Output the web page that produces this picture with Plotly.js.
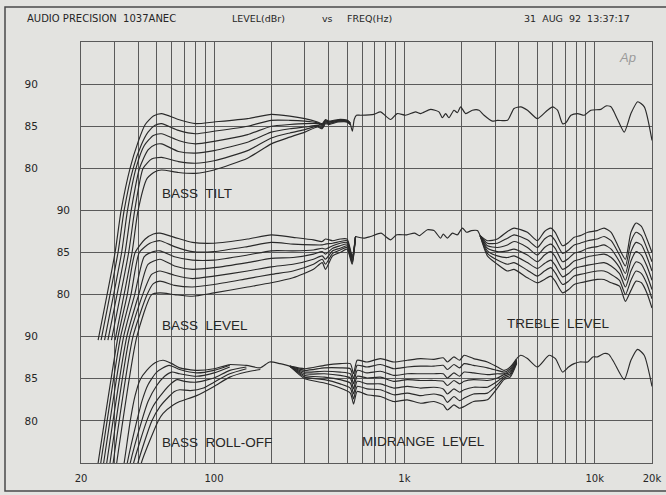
<!DOCTYPE html>
<html><head><meta charset="utf-8">
<script src="https://cdn.plot.ly/plotly-3.0.1.min.js"></script>
<style>html,body{margin:0;padding:0;background:#e3e3e0;} #chart{width:666px;height:495px;}</style>
</head><body><div id="chart"></div><script>
// ---------- axis ticks ----------
const xTickVals = [20,30,40,50,60,70,80,90,100,200,300,400,500,600,700,800,900,1000,2000,3000,4000,5000,6000,7000,8000,9000,10000,20000];
const xTickText = ['20','','','','','','','','100','','','','','','','','','1k','','','','','','','','','10k','20k'];
const yGridVals = [95,90,85,80,75,70,65,60,55,50,45];
const yGridText = ['','90','85','80','','','','90','85','80',''];
const yMidVals = [75,70,65];
const yMidText = ['90','85','80'];

// ---------- TOP PANEL : BASS TILT (real dB) ----------
const tiltRiseF = [[24.6,30.2,32.5,36.2,40,43.5,48],[25.5,31.3,33.7,37.6,41.5,45,49],[26.6,32.7,35.1,38.9,43,48],[27.7,34.1,36.7,40.6,45,49],[28.9,35.6,38.3,42.4,47],[30.2,37.1,39.9,44.5,49]];
const tiltRiseDb = [[59.6,70,75,80,83.2,85.2,86.2],[59.6,70,75,80,82.8,84.3,85.1],[59.6,70,75,80,82.7,83.9],[59.6,70,75,80,82.2,82.8],[59.6,70,75,80,81.1],[59.6,70,75,78.8,79.6]];
const tiltF = [53,65,80,100,150,200,250,300,350,370,385,400,450,500,520];
const tiltDb = [
 [86.5,85.8,85.3,85.5,85.9,86.4,86.2,85.9,85.5,85.3,85.8,85.6,85.8,85.7,85.4],
 [85.3,84.5,84.1,84.4,85.0,85.7,85.7,85.6,85.4,85.2,85.7,85.5,85.7,85.7,85.4],
 [84.1,83.3,82.9,83.2,84.0,85.0,85.2,85.3,85.3,85.1,85.6,85.5,85.7,85.6,85.3],
 [82.9,82.0,81.8,82.1,83.1,84.3,84.7,84.9,85.1,85.0,85.5,85.4,85.6,85.6,85.3],
 [81.3,80.8,80.6,80.9,82.1,83.6,84.2,84.6,85.0,84.8,85.4,85.3,85.6,85.5,85.2],
 [79.8,79.5,79.4,79.8,81.2,82.9,83.7,84.3,84.9,84.7,85.3,85.2,85.5,85.5,85.2]];
const tiltHighF = [520,533,545,560,588,691,749,846,917,1015,1145,1217,1374,1519,1583,1648,1715,1822,1899,1976,2099,2276,2466,2622,2901,3082,3480,3770,4088,4434,5003,5650,6005,6378,6776,7053,7500,8130,8808,9550,10780,11450,12170,13190,14300,15500,16820,18220,20000];
const tiltHighDb = [85.3,84.4,85.8,86.3,86.3,86.4,86.7,85.8,86.5,86.3,86.7,86.5,87.0,86.7,86.0,86.5,86.0,86.9,86.6,87.3,86.5,86.9,86.9,86.3,85.6,85.7,85.7,87.1,87.3,86.9,85.9,86.9,87.3,86.9,85.3,85.4,86.3,86.5,86.3,86.9,87.0,87.4,87.3,85.8,84.3,86.5,87.9,87.3,83.3];

// ---------- MIDDLE PANEL : BASS LEVEL / TREBLE LEVEL (real dB) ----------
const levelRiseF = [[24.6,31.3,35.0,38.5,43.5,48],[25.4,32.3,36.6,40.5,46],[26.3,33.5,38.3,43,48],[27.3,34.8,40.2,45],[28.4,36.0,42.2,47],[29.5,37.5,44.5,48],[30.8,39.3,47]];
const levelRiseDb = [[60,75,80,85,86.6,87.2],[60,75,80,85,86.1],[60,75,80,84.5,85.1],[60,75,80,83.6],[60,75,80,82.4],[60,75,80,81.3],[60,75,80]];
const levelF = [52,62,77,100,150,200,260,333,370,385,420,460,500,532,554];
const levelDb = [
 [87.3,86.8,86.2,86.1,86.6,87.1,86.8,86.5,86.3,86.6,86.4,86.6,86.6,84.6,86.9],
 [86.4,85.7,85.1,85.1,85.7,86.2,86.0,85.9,85.9,86.0,86.1,86.3,86.4,84.4,86.9],
 [85.2,84.5,84.1,84.1,84.7,85.2,85.2,85.3,85.5,85.4,85.8,86.1,86.2,84.3,86.9],
 [84.2,83.4,83.0,83.2,83.8,84.3,84.4,84.8,85.1,84.8,85.5,85.8,86.0,84.1,86.9],
 [82.8,82.3,81.9,82.2,82.8,83.3,83.6,84.2,84.6,84.2,85.2,85.5,85.8,83.9,86.9],
 [81.6,81.1,80.9,81.2,81.9,82.4,82.8,83.6,84.2,83.6,84.9,85.3,85.6,83.8,86.9],
 [80.2,80.0,79.8,80.2,80.9,81.4,82.0,83.0,83.8,83.0,84.6,85.0,85.4,83.6,86.9]];
const midCommonF = [554,612,664,755,796,846,912,1030,1130,1200,1320,1430,1550,1600,1682,1787,1900,2017,2122,2250,2419,2500];
const midCommonDb = [86.9,86.7,86.9,87.3,86.9,86.5,87.1,87.1,87.3,87.0,87.7,87.6,86.7,87.2,86.7,87.3,87.1,87.9,87.4,87.6,87.6,87.0];
const trebleF = [2500,2730,3080,3480,3770,4430,5000,5450,5880,6200,6780,7290,7800,8390,9200,10300,11200,12200,13500,14500,15500,16500,17600,18800,20000];
const trebleDb = [
 [87.0,86.4,86.6,87.5,87.9,87.4,86.4,87.5,87.9,87.4,85.8,86.2,86.8,87.0,87.4,87.6,87.9,87.4,85.4,84.2,87.4,88.5,88.1,86.6,85.0],
 [87.0,86.1,86.1,86.7,87.1,86.5,85.6,86.6,87.0,86.4,84.9,85.3,85.9,86.1,86.4,86.6,86.9,86.4,84.7,83.4,86.3,87.4,87.0,85.5,83.9],
 [87.0,85.8,85.6,85.9,86.3,85.6,84.7,85.6,86.0,85.5,83.9,84.3,84.9,85.1,85.5,85.7,85.9,85.4,83.9,82.5,85.1,86.2,85.9,84.5,82.8],
 [87.0,85.5,85.1,85.2,85.4,84.7,83.9,84.7,85.1,84.5,83.0,83.4,84.0,84.2,84.5,84.7,84.8,84.4,83.2,81.7,84.0,85.1,84.7,83.4,81.7],
 [87.0,85.2,84.6,84.4,84.6,83.8,83.1,83.7,84.1,83.5,82.1,82.5,83.1,83.3,83.5,83.7,83.8,83.4,82.5,80.9,82.8,83.9,83.6,82.3,80.6],
 [87.0,84.9,84.1,83.6,83.8,82.9,82.2,82.8,83.2,82.6,81.2,81.6,82.2,82.4,82.6,82.8,82.8,82.4,81.7,80.0,81.7,82.8,82.5,81.3,79.5],
 [87.0,84.6,83.6,82.8,83.0,82.0,81.4,81.8,82.2,81.6,80.2,80.6,81.2,81.4,81.6,81.8,81.8,81.4,81.0,79.2,80.5,81.6,81.4,80.2,78.4]];

// ---------- BOTTOM PANEL : BASS ROLL-OFF / MIDRANGE LEVEL (real dB) ----------
const rollF = [
 [32,33.7,36.3,38.4,40.9,44.3,49,54,60,66,81,100,121],
 [33.2,35,39.3,42,45,50,58,66,81,100,121],
 [34.4,36.3,41.7,45,50,55,60,66,81,100,121],
 [35.8,37.8,44.3,48,54,60,64,70,81,100,121,148],
 [37.6,39.8,47.1,52,58,62,66,75,88,100,121,148],
 [39.3,41.5,50.9,54,61,66,81,100,121,148,175]];
const rollDb = [
 [72,75,80,82.9,84.9,86.0,86.9,87.2,86.8,86.3,86.0,86.2,86.7],
 [72,75,80,82.5,84.3,85.8,86.6,86.1,85.7,86.0,86.6],
 [72,75,80,82.3,84.2,85.3,85.8,85.6,85.3,85.7,86.4],
 [72,75,80,81.8,83.4,84.5,84.9,84.7,84.6,85.1,86.0,86.4],
 [72,75,80,81.7,82.9,83.5,83.7,83.6,83.9,84.6,85.6,86.2],
 [72,75,80,80.9,81.9,82.3,83.0,84.1,85.2,85.8,86.1]];
const botCommonF = [121,148,175,196,222,250];
const botCommonDb = [86.7,86.6,86.3,87.0,86.8,86.5];
const midrangeF = [250,300,380,460,520,541,565,637,749,880,1035,1217,1430,1600,1682,1822,1950,2060,2310,2730,3080,3340,3600,3890];
const midrangeDb = [
 [86.5,86.2,86.6,86.8,86.8,85.6,87.2,87.0,87.4,87.0,87.2,87.4,87.3,87.5,87.0,87.6,87.2,87.8,87.4,87.0,86.4,86.0,86.4,87.4],
 [86.5,86.0,86.3,86.3,86.2,85.0,86.6,86.4,86.7,86.2,86.4,86.5,86.5,86.6,86.1,86.7,86.3,86.8,86.6,86.3,86.0,85.8,86.2,87.3],
 [86.5,85.8,85.9,85.8,85.6,84.4,86.0,85.7,85.9,85.4,85.6,85.6,85.6,85.6,85.1,85.7,85.3,85.8,85.7,85.5,85.6,85.6,86.0,87.2],
 [86.5,85.6,85.6,85.4,85.1,83.8,85.3,85.1,85.2,84.7,84.9,84.8,84.8,84.7,84.2,84.8,84.4,84.7,84.9,84.8,85.1,85.5,85.8,87.1],
 [86.5,85.4,85.2,84.9,84.5,83.2,84.7,84.4,84.4,83.9,84.1,83.9,84.0,83.8,83.2,83.8,83.4,83.7,84.0,84.0,84.7,85.3,85.6,87.0],
 [86.5,85.2,84.9,84.4,83.9,82.6,84.1,83.8,83.7,83.1,83.3,83.0,83.2,82.9,82.2,82.9,82.4,82.7,83.2,83.3,84.3,85.1,85.4,86.9],
 [86.5,85.0,84.5,83.9,83.3,82.0,83.5,83.1,82.9,82.3,82.5,82.1,82.3,81.9,81.3,81.9,81.5,81.7,82.3,82.5,83.9,84.9,85.2,86.8]];
const botHighF = [3890,4088,4434,5000,5760,6220,6780,7290,7800,8350,9180,9770,10350,11200,11850,12600,14300,15500,16800,18200,20000];
const botHighDb = [87.4,87.8,87.4,86.4,87.8,87.4,85.8,86.4,86.8,87.0,87.0,87.6,87.6,88.0,87.9,87.0,84.9,87.2,88.5,87.8,84.1];

// panel shifts onto the common stacked axis (dB below the top panel)
const TOP = 0, MID = -15, BOT = -30;
const LINE = '#2a2a2a', GRID = '#5a5a5a', BG = '#e3e3e0', TXT = '#262626';

const traces = [];
function add(f, db, off) {
  traces.push({type:'scatter', mode:'lines', x:f, y:db.map(v => v + off),
    line:{color:LINE, width:1.15, shape:'spline', smoothing:0.6}, hoverinfo:'skip', showlegend:false});
}
tiltDb.forEach((d,i) => add(tiltRiseF[i].concat(tiltF), tiltRiseDb[i].concat(d), TOP));
add(tiltHighF, tiltHighDb, TOP);
levelDb.forEach((d,i) => add(levelRiseF[i].concat(levelF), levelRiseDb[i].concat(d), MID));
add(midCommonF, midCommonDb, MID);
trebleDb.forEach(d => add(trebleF, d, MID));
rollDb.forEach((d,i) => add(rollF[i], d, BOT));
add(botCommonF, botCommonDb, BOT);
midrangeDb.forEach(d => add(midrangeF, d, BOT));
add(botHighF, botHighDb, BOT);
// empty trace so the second (label-only) y axis is drawn
traces.push({type:'scatter', mode:'markers', x:[null], y:[null], yaxis:'y2', hoverinfo:'skip', showlegend:false});

const PL = 81, PW = 571, PT = 42, PH = 421, PB = PT + PH;
const px = v => (v - PL) / PW;
const py = v => (PB - v) / PH;
function note(text, x, y, size, family, extra) {
  return Object.assign({text, x:px(x), y:py(y), xref:'paper', yref:'paper', xanchor:'left', yanchor:'middle',
    showarrow:false, font:{size, family, color:TXT}}, extra || {});
}
const HEAD = 'DejaVu Sans', LAB = 'Liberation Sans, Arial, sans-serif';
const annotations = [
  note('AUDIO PRECISION  1037ANEC', 25, 18, 10, HEAD),
  note('LEVEL(dBr)', 230, 18, 9.5, HEAD),
  note('vs', 320, 18, 9.5, HEAD),
  note('FREQ(Hz)', 345, 18, 9.5, HEAD),
  note('31  AUG  92  13:37:17', 522, 18, 9.5, HEAD),
  note('BASS  TILT', 160, 193, 13.5, LAB),
  note('BASS  LEVEL', 160, 325, 13.5, LAB),
  note('TREBLE  LEVEL', 505, 323, 13.5, LAB),
  note('BASS  ROLL-OFF', 160, 442, 13.5, LAB),
  note('MIDRANGE  LEVEL', 360, 441, 13.5, LAB),
  note('<i>Ap</i>', 617, 57, 13, LAB, {font:{size:13, family:LAB, color:'#9a9a9a'}})
];

const layout = {
  width:666, height:495,
  margin:{l:PL, r:666-PL-PW, t:PT, b:495-PB},
  paper_bgcolor:BG, plot_bgcolor:BG,
  showlegend:false, hovermode:false,
  xaxis:{type:'log', range:[Math.log10(20), Math.log10(20000)], tickmode:'array', tickvals:xTickVals, ticktext:xTickText,
    showgrid:true, gridcolor:GRID, gridwidth:1, showline:true, mirror:true, linecolor:GRID, linewidth:1,
    ticks:'', zeroline:false, ticklabelstandoff:6, tickfont:{family:HEAD, size:10, color:TXT}},
  yaxis:{range:[45,95], tickmode:'array', tickvals:yGridVals, ticktext:yGridText,
    showgrid:true, gridcolor:GRID, gridwidth:1, showline:true, mirror:true, linecolor:GRID, linewidth:1,
    ticks:'', zeroline:false, ticklabelstandoff:40, tickfont:{family:HEAD, size:10.5, color:TXT}},
  yaxis2:{range:[45,95], overlaying:'y', side:'left', anchor:'x', tickmode:'array', tickvals:yMidVals, ticktext:yMidText,
    showgrid:false, showline:false, zeroline:false, ticks:'', ticklabelstandoff:10, tickfont:{family:HEAD, size:10.5, color:TXT}},
  annotations,
  shapes:[{type:'rect', xref:'paper', yref:'paper', x0:px(5), x1:px(672), y0:py(491), y1:py(7),
    line:{color:'#4a4a4a', width:1.5}, fillcolor:'rgba(0,0,0,0)', layer:'below'}]
};
Plotly.newPlot('chart', traces, layout, {staticPlot:true, displayModeBar:false});
</script></body></html>
